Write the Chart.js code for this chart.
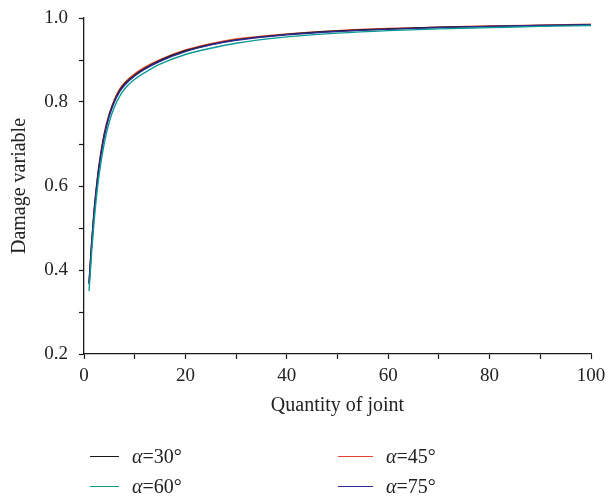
<!DOCTYPE html>
<html>
<head>
<meta charset="utf-8">
<script src="https://cdn.jsdelivr.net/npm/chart.js@4"></script>
<style>
  html, body { margin:0; padding:0; background:#fff; }
  #wrap { position:relative; width:608px; height:500px; }
  canvas { position:absolute; left:0; top:0; }
  .lg { position:absolute; font-family:"Liberation Serif","DejaVu Serif",serif; font-size:20px; color:#222; line-height:20px; white-space:nowrap; }
  .ln { position:absolute; height:1.3px; }
</style>
</head>
<body>
<div id="wrap">
  <canvas id="c" width="608" height="500"></canvas>
</div>
<script>
const quantity = [1, 1.5, 2, 2.5, 3, 4, 5, 6, 7, 8, 10, 12, 15, 20, 25, 30, 40, 50, 60, 70, 80, 90, 100];
const a30 = [0.368, 0.462, 0.540, 0.600, 0.650, 0.722, 0.770, 0.803, 0.827, 0.843, 0.864, 0.880, 0.899, 0.922, 0.937, 0.948, 0.961, 0.969, 0.974, 0.978, 0.980, 0.982, 0.984];
const a45 = [0.371, 0.466, 0.544, 0.604, 0.654, 0.726, 0.773, 0.806, 0.830, 0.846, 0.867, 0.883, 0.901, 0.924, 0.939, 0.950, 0.962, 0.970, 0.975, 0.978, 0.981, 0.983, 0.985];
const a60 = [0.350, 0.441, 0.517, 0.578, 0.628, 0.702, 0.753, 0.788, 0.813, 0.831, 0.854, 0.870, 0.890, 0.913, 0.928, 0.940, 0.955, 0.964, 0.970, 0.974, 0.977, 0.980, 0.982];
const a75 = [0.366, 0.459, 0.537, 0.597, 0.647, 0.719, 0.767, 0.800, 0.824, 0.840, 0.862, 0.878, 0.897, 0.920, 0.936, 0.947, 0.960, 0.968, 0.973, 0.977, 0.980, 0.982, 0.984];
const seriesNames = ["\u03b1=30\u00b0", "\u03b1=45\u00b0", "\u03b1=60\u00b0", "\u03b1=75\u00b0"];
const seriesColors = ["#1a1a1a", "#e2452f", "#0a9a94", "#2e2a8e"];
const xTickLabels = [0, 20, 40, 60, 80, 100];
const yTickLabels = [0.2, 0.4, 0.6, 0.8, 1.0];

// draw order: teal, blue, black, red (red on top)
const drawOrder = [2, 3, 0, 1];
const valuesBySeries = [a30, a45, a60, a75];
const datasets = drawOrder.map(si => ({
  label: seriesNames[si],
  data: quantity.map((q, i) => ({x: q, y: valuesBySeries[si][i]})),
  borderColor: seriesColors[si],
  borderWidth: 1.4,
  pointRadius: 0,
  cubicInterpolationMode: 'monotone',
  fill: false
}));

const serif = "'Liberation Serif','DejaVu Serif',serif";
new Chart(document.getElementById('c'), {
  type: 'line',
  data: { datasets },
  options: {
    responsive: false,
    animation: false,
    layout: { padding: { left: 0, right: 17, top: 18, bottom: 82 } },
    plugins: { legend: { display: false }, tooltip: { enabled: false } },
    scales: {
      x: {
        type: 'linear', min: 0, max: 100,
        afterFit: s => { s.height = 64; s.paddingLeft = 0; s.paddingRight = 0; },
        border: { color: '#1a1a1a', width: 1.3 },
        grid: { drawOnChartArea: false, drawTicks: true, tickLength: 5, tickColor: '#1a1a1a', tickWidth: 1.2 },
        ticks: {
          stepSize: 10, color: '#222', font: { family: serif, size: 19 }, padding: 6, maxRotation: 0, autoSkip: false,
          callback: v => xTickLabels.includes(Math.round(v)) ? String(Math.round(v)) : ''
        },
        title: { display: true, text: 'Quantity of joint', color: '#222', font: { family: serif, size: 20 }, padding: 0 }
      },
      y: {
        min: 0.2, max: 1.0,
        afterFit: s => { s.width = 84; s.paddingTop = 0; s.paddingBottom = 0; },
        border: { color: '#1a1a1a', width: 1.3 },
        grid: { drawOnChartArea: false, drawTicks: true, tickLength: 5, tickColor: '#1a1a1a', tickWidth: 1.2 },
        ticks: {
          stepSize: 0.1, color: '#222', font: { family: serif, size: 19 }, padding: 11, autoSkip: false,
          callback: v => { const r = Math.round(v * 10) / 10; return yTickLabels.some(t => Math.abs(t - r) < 1e-6) ? r.toFixed(1) : ''; }
        },
        title: { display: true, text: 'Damage variable', color: '#222', font: { family: serif, size: 20 }, padding: { top: 8, bottom: 0 } }
      }
    }
  }
});

// HTML legend
const wrap = document.getElementById('wrap');
const pos = [[90, 456, 132], [338, 456, 386], [90, 486, 132], [338, 486, 386]];
[0, 1, 2, 3].forEach(i => {
  const [lx, ly, tx] = pos[i];
  const ln = document.createElement('div');
  ln.className = 'ln';
  ln.style.left = lx + 'px'; ln.style.top = ly + 'px'; ln.style.width = (i % 2 ? 35 : 29) + 'px';
  ln.style.background = seriesColors[i];
  wrap.appendChild(ln);
  const t = document.createElement('div');
  t.className = 'lg';
  t.style.left = tx + 'px'; t.style.top = (ly - 10) + 'px';
  t.innerHTML = '<i>\u03b1</i>=' + seriesNames[i].slice(2);
  wrap.appendChild(t);
});
</script>
</body>
</html>
